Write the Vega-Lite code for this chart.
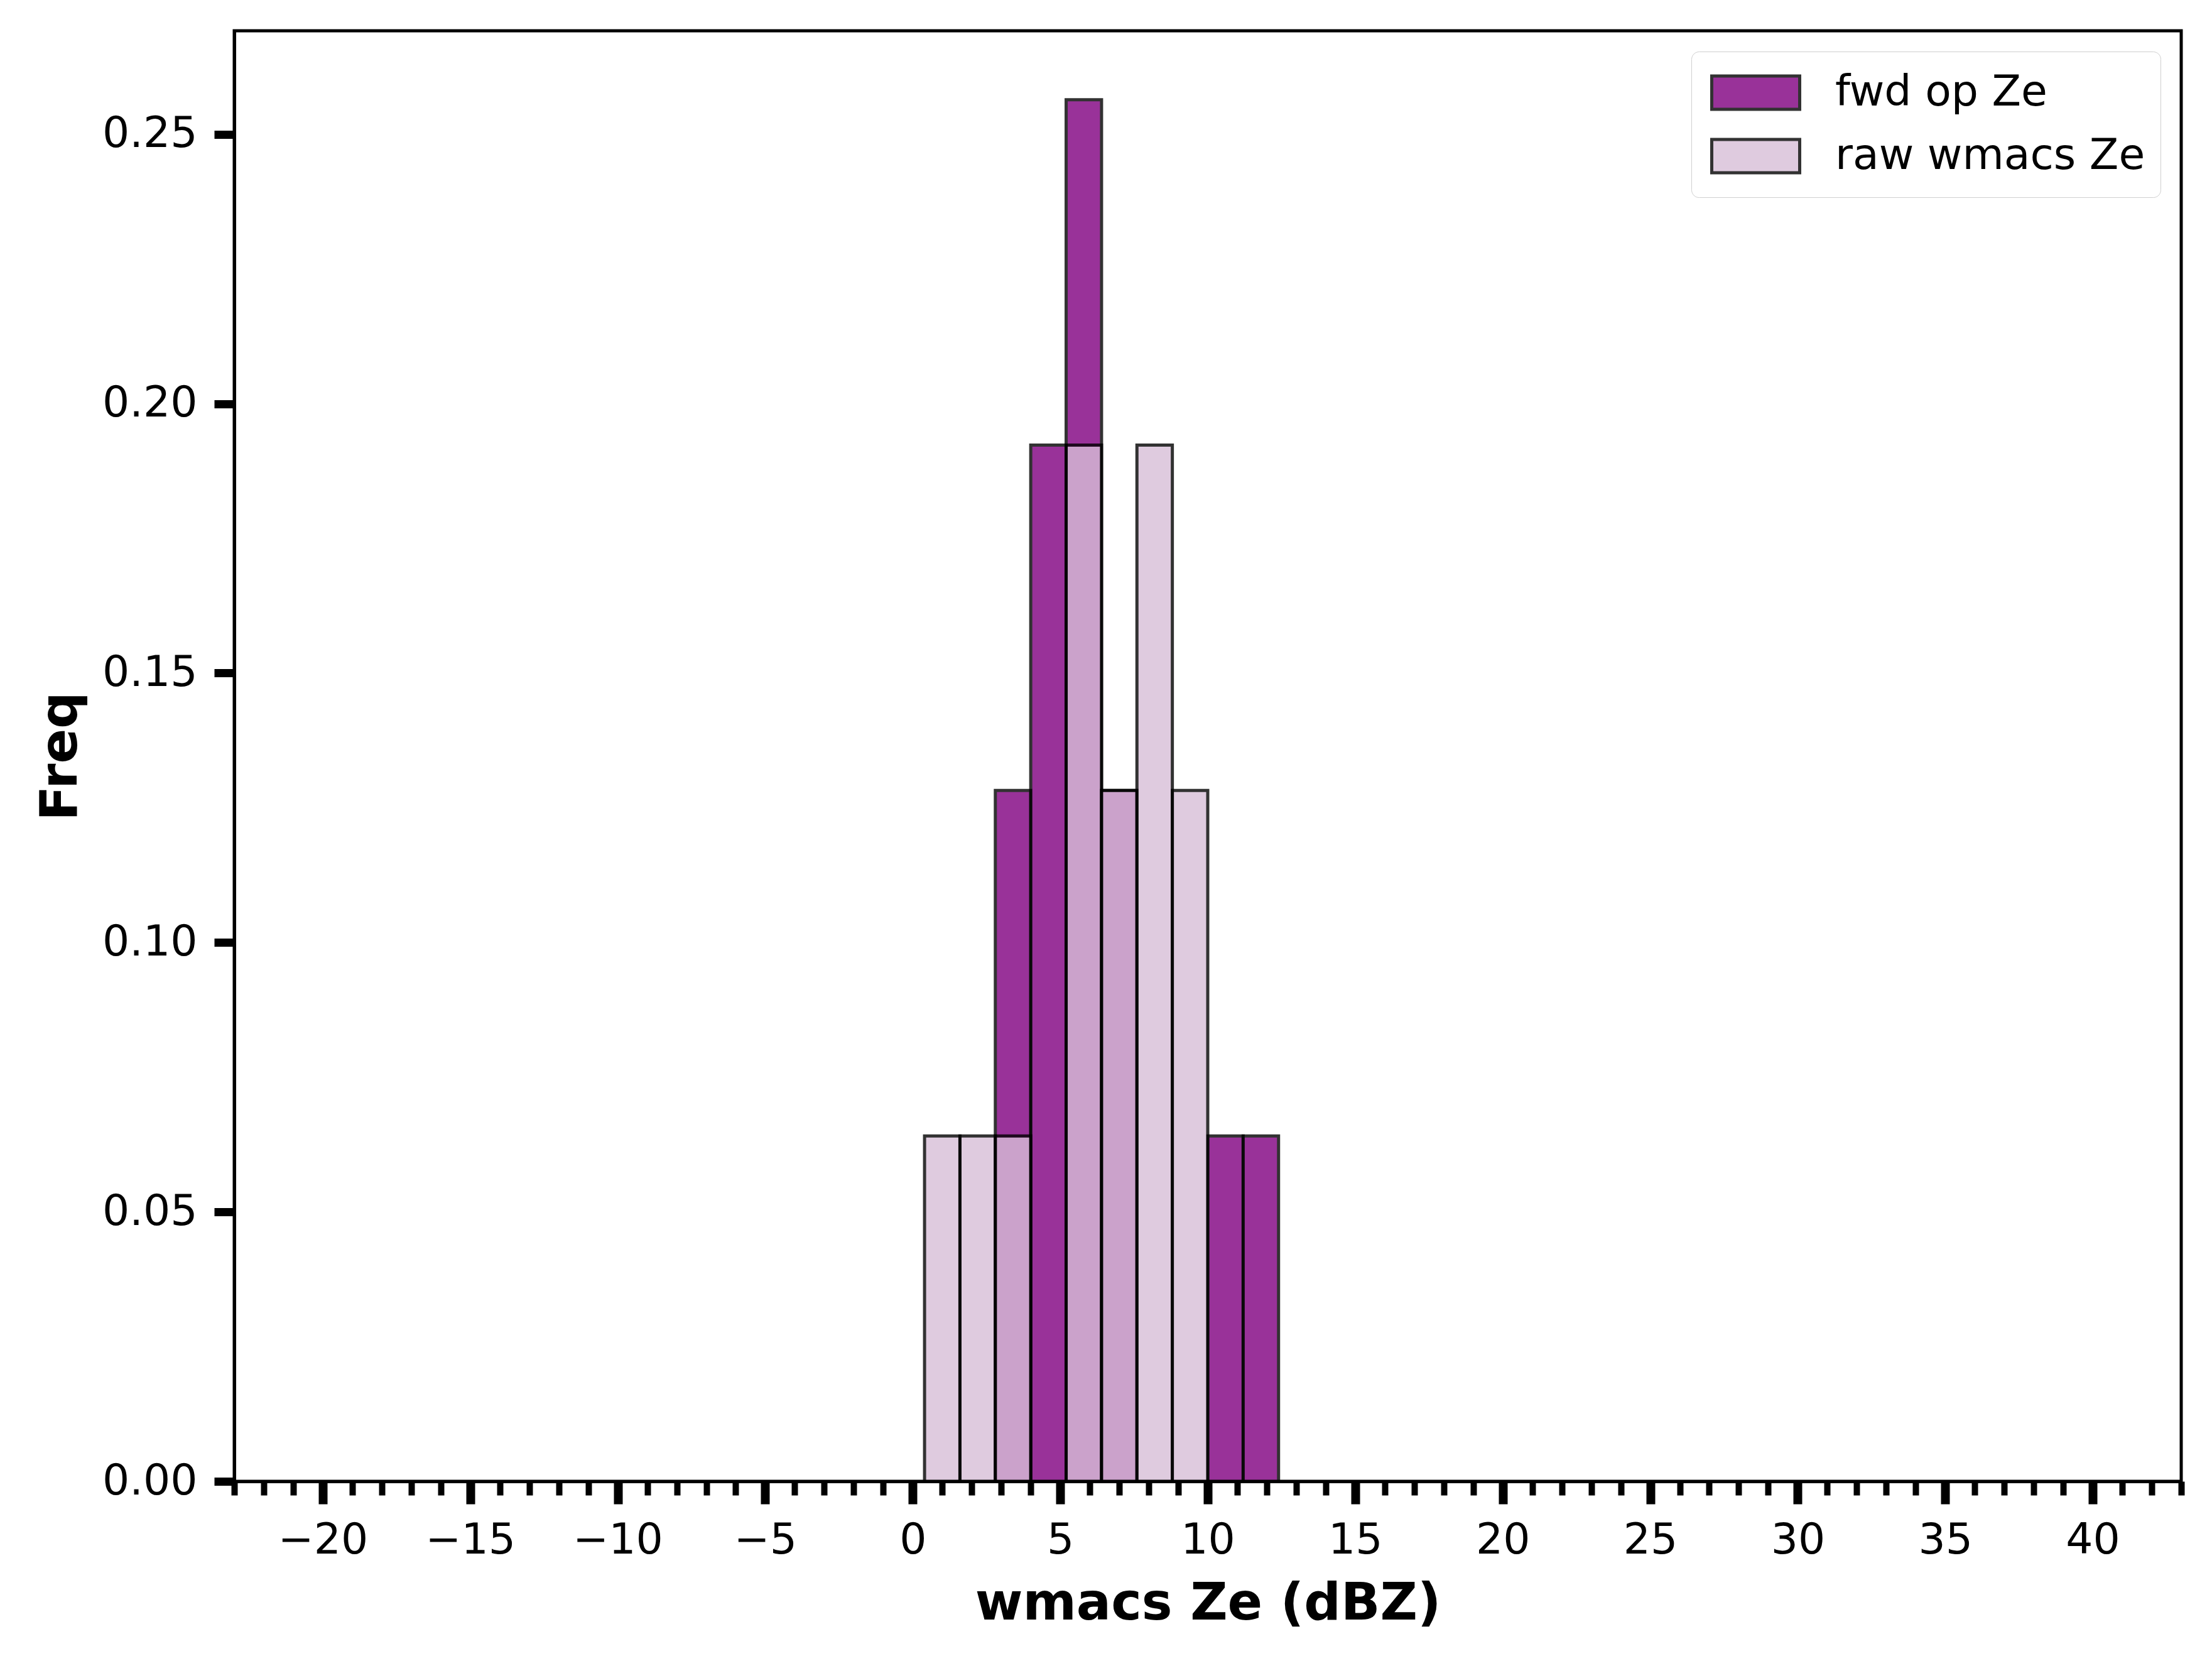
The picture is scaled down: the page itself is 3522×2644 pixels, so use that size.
{
  "$schema": "https://vega.github.io/schema/vega-lite/v6.json",
  "width": 3100,
  "height": 2309,
  "autosize": {"type": "none"},
  "padding": {"left": 373, "top": 49, "right": 49, "bottom": 286},
  "background": "white",
  "config": {
    "font": "DejaVu Sans",
    "view": {"stroke": "black", "strokeWidth": 5},
    "axis": {"grid": false, "domainColor": "black", "domainWidth": 5, "tickColor": "black", "labelColor": "black", "titleColor": "black"}
  },
  "data": {
    "values": [
      {"series": "fwd op Ze", "bin_start": 2.8, "bin_end": 4.0, "freq": 0.128205},
      {"series": "fwd op Ze", "bin_start": 4.0, "bin_end": 5.2, "freq": 0.192308},
      {"series": "fwd op Ze", "bin_start": 5.2, "bin_end": 6.4, "freq": 0.25641},
      {"series": "fwd op Ze", "bin_start": 6.4, "bin_end": 7.6, "freq": 0.128205},
      {"series": "fwd op Ze", "bin_start": 10.0, "bin_end": 11.2, "freq": 0.064103},
      {"series": "fwd op Ze", "bin_start": 11.2, "bin_end": 12.4, "freq": 0.064103},
      {"series": "raw wmacs Ze", "bin_start": 0.4, "bin_end": 1.6, "freq": 0.064103},
      {"series": "raw wmacs Ze", "bin_start": 1.6, "bin_end": 2.8, "freq": 0.064103},
      {"series": "raw wmacs Ze", "bin_start": 2.8, "bin_end": 4.0, "freq": 0.064103},
      {"series": "raw wmacs Ze", "bin_start": 5.2, "bin_end": 6.4, "freq": 0.192308},
      {"series": "raw wmacs Ze", "bin_start": 6.4, "bin_end": 7.6, "freq": 0.128205},
      {"series": "raw wmacs Ze", "bin_start": 7.6, "bin_end": 8.8, "freq": 0.192308},
      {"series": "raw wmacs Ze", "bin_start": 8.8, "bin_end": 10.0, "freq": 0.128205}
    ]
  },
  "mark": {"type": "bar", "stroke": "black", "strokeWidth": 5, "opacity": 0.8},
  "encoding": {
    "x": {
      "field": "bin_start",
      "type": "quantitative",
      "scale": {"domain": [-23, 43], "nice": false, "zero": false},
      "axis": {
        "title": "wmacs Ze (dBZ)",
        "titleFontSize": 82,
        "titleFontWeight": "bold",
        "titlePadding": 26,
        "values": [-23, -22, -21, -20, -19, -18, -17, -16, -15, -14, -13, -12, -11, -10, -9, -8, -7, -6, -5, -4, -3, -2, -1, 0, 1, 2, 3, 4, 5, 6, 7, 8, 9, 10, 11, 12, 13, 14, 15, 16, 17, 18, 19, 20, 21, 22, 23, 24, 25, 26, 27, 28, 29, 30, 31, 32, 33, 34, 35, 36, 37, 38, 39, 40, 41, 42, 43],
        "format": "d",
        "labelExpr": "floor(datum.value / 5) * 5 === datum.value ? datum.label : ''",
        "labelOverlap": false,
        "labelFlush": false,
        "labelBound": false,
        "labelFontSize": 68,
        "labelPadding": 24,
        "tickSize": {"condition": {"test": "floor(datum.value / 5) * 5 === datum.value", "value": 36}, "value": 22},
        "tickWidth": {"condition": {"test": "floor(datum.value / 5) * 5 === datum.value", "value": 14}, "value": 10}
      }
    },
    "x2": {"field": "bin_end"},
    "y": {
      "field": "freq",
      "type": "quantitative",
      "stack": null,
      "scale": {"domain": [0, 0.2692], "nice": false},
      "axis": {
        "title": "Freq",
        "titleFontSize": 82,
        "titleFontWeight": "bold",
        "titlePadding": 35,
        "values": [0, 0.05, 0.1, 0.15, 0.2, 0.25],
        "format": ".2f",
        "labelFontSize": 68,
        "labelPadding": 27,
        "tickSize": 32,
        "tickWidth": 13
      }
    },
    "y2": {"datum": 0},
    "color": {
      "field": "series",
      "type": "nominal",
      "scale": {"domain": ["fwd op Ze", "raw wmacs Ze"], "range": ["purple", "thistle"]},
      "legend": {
        "title": null,
        "orient": "top-right",
        "offset": 33,
        "fillColor": "white",
        "strokeColor": "#cfcfcf",
        "cornerRadius": 12,
        "padding": 24,
        "symbolOffset": 6,
        "symbolType": "M-1,-0.38H1V0.38H-1Z",
        "symbolSize": 19600,
        "symbolOpacity": 0.8,
        "symbolStrokeColor": "black",
        "symbolStrokeWidth": 5,
        "clipHeight": 83,
        "rowPadding": 18,
        "labelFontSize": 68,
        "labelOffset": 54,
        "labelColor": "black",
        "labelLimit": 1000
      }
    }
  }
}
